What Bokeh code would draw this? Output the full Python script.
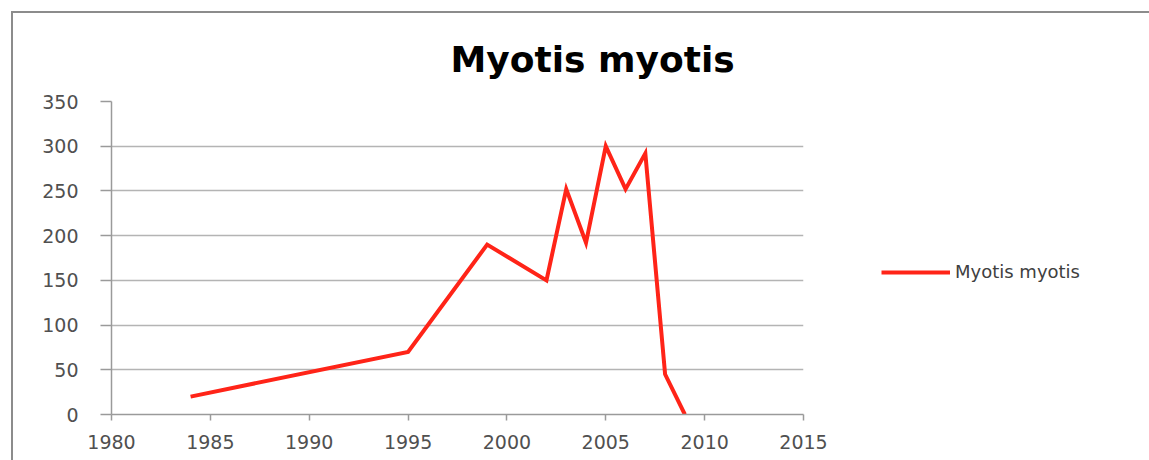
from bokeh.plotting import figure
from bokeh.models import Range1d, SingleIntervalTicker, Legend, LegendItem
from bokeh.layouts import row
from bokeh.embed import file_html
from bokeh.resources import INLINE

years = [1984, 1995, 1999, 2002, 2003, 2004, 2005, 2006, 2007, 2008, 2009]
counts = [20, 70, 190, 150, 252, 192, 300, 252, 292, 45, 0]
series_name = "Myotis myotis"
chart_title = "Myotis myotis"
x_start, x_end, x_step = 1980, 2015, 5
y_start, y_end, y_step = 0, 350, 50
line_color = "#ff2418"

p = figure(width=817, height=447, output_backend="svg", toolbar_location=None,
           x_range=Range1d(x_start, x_end), y_range=Range1d(y_start, y_end),
           min_border_left=98, min_border_right=27, min_border_top=88, min_border_bottom=46)
p.outline_line_color = None
p.background_fill_color = "white"
p.border_fill_color = "white"

p.title.text = chart_title
p.title.align = "left"
p.title.offset = 339
p.title.standoff = 44
p.title.text_font = "DejaVu Sans"
p.title.text_font_size = "36px"
p.title.text_font_style = "bold"
p.title.text_color = "#000000"

r = p.line(years, counts, line_color=line_color, line_width=4, line_join="miter")

for ax in (p.xaxis[0], p.yaxis[0]):
    ax.axis_line_color = "#9a9a9a"
    ax.axis_line_width = 1.5
    ax.major_tick_line_color = "#9a9a9a"
    ax.major_tick_line_width = 1.5
    ax.minor_tick_line_color = None
    ax.major_tick_in = 0
    ax.major_label_text_font = "DejaVu Sans"
    ax.major_label_text_font_size = "19px"
    ax.major_label_text_color = "#505050"

p.xaxis.ticker = SingleIntervalTicker(interval=x_step)
p.yaxis.ticker = SingleIntervalTicker(interval=y_step)
p.xaxis.major_tick_out = 6
p.xaxis.major_label_standoff = 14
p.yaxis.major_tick_out = 11
p.yaxis.major_label_standoff = 22

p.xgrid.grid_line_color = None
p.ygrid.grid_line_color = "#b4b4b4"
p.ygrid.grid_line_width = 1.5
p.ygrid.ticker = SingleIntervalTicker(interval=y_step)

# legend area (separate canvas to the right of the plot); the series is
# drawn there outside the visible range so that only its legend shows
pl = figure(width=319, height=447, output_backend="svg", toolbar_location=None,
            x_axis_type=None, y_axis_type=None,
            x_range=Range1d(x_end + 100, x_end + 200), y_range=Range1d(y_start, y_end),
            min_border_left=0, min_border_right=0, min_border_top=0, min_border_bottom=0)
pl.outline_line_color = None
pl.grid.grid_line_color = None
pl.background_fill_color = "white"
pl.border_fill_color = "white"
rl = pl.line(years, counts, line_color=line_color, line_width=4)

legend = Legend(items=[LegendItem(label=series_name, renderers=[rl])],
                location=(51, 132), padding=0, margin=0, glyph_width=69, glyph_height=20,
                label_standoff=5, border_line_color=None, background_fill_alpha=0,
                label_text_font="DejaVu Sans", label_text_font_size="18px",
                label_text_color="#404040")
pl.add_layout(legend, "center")

layout = row(p, pl, spacing=0)
layout.styles = {"margin-left": "11px", "margin-top": "11px",
                 "border-left": "2px solid #8c8c8c", "border-top": "2px solid #8c8c8c"}

open("out.html", "w").write(file_html(layout, INLINE))
